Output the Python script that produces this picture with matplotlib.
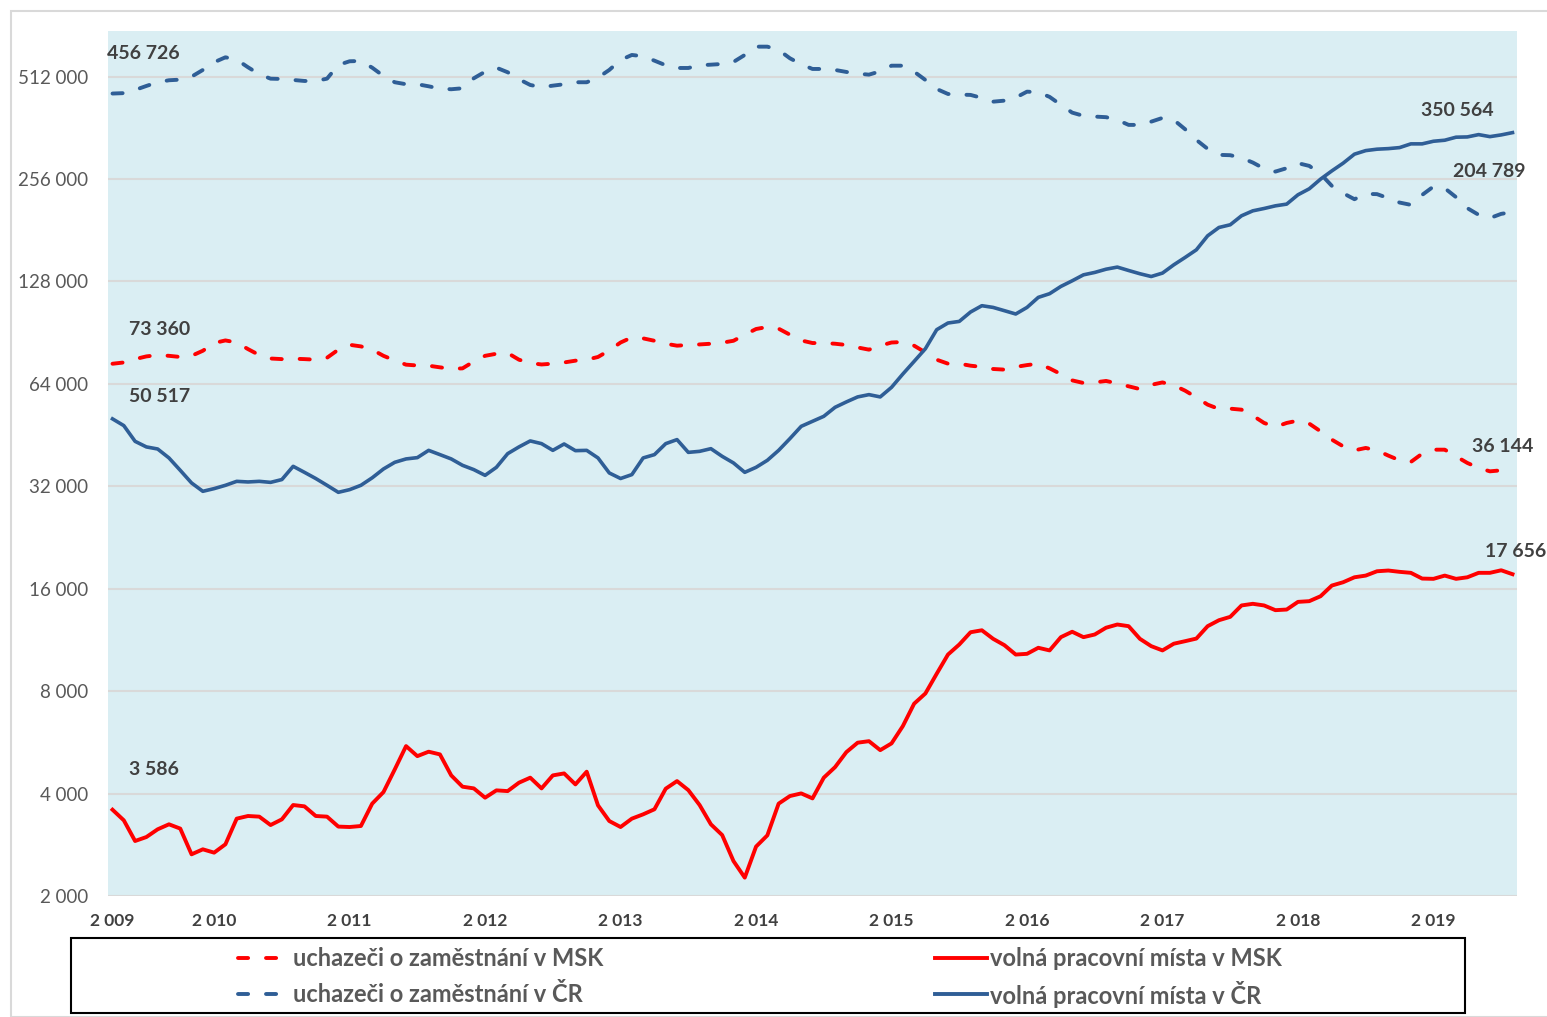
import matplotlib
matplotlib.use("Agg")
import matplotlib.pyplot as plt
from matplotlib.lines import Line2D
from matplotlib.patches import Rectangle

plt.rcParams['font.family'] = ['Lato', 'DejaVu Sans']

# monthly values, Apr 2009 .. Aug 2019
years = ["2 009", "2 010", "2 011", "2 012", "2 013", "2 014",
         "2 015", "2 016", "2 017", "2 018", "2 019"]
year_pos = [0, 9, 21, 33, 45, 57, 69, 81, 93, 105, 117]

cr_unemp = [456726, 458000, 468000, 480800, 493000, 499700, 501800, 512000, 535800, 564400,
            583700, 574400, 545600, 520400, 505100, 504100, 500700, 497300, 497300, 505100,
            554200, 568200, 569400, 544100, 514400, 493000, 486400, 486400, 479700, 472100,
            470200, 473300, 506400, 529600, 544100, 527500, 503100, 484000, 476700, 481800,
            486400, 493000, 493000, 508600, 535800, 573200, 593000, 587800, 570600, 553000,
            543000, 543000, 553000, 555300, 557900, 565600, 593000, 627300, 627300, 613400,
            579800, 556900, 539400, 539400, 535800, 528600, 522500, 519000, 531000, 551500,
            551500, 529600, 500700, 471000, 455400, 453400, 452500, 443300, 432300, 435300,
            444300, 462600, 460700, 446500, 423000, 401400, 392700, 390800, 389200, 382100,
            369400, 369400, 377600, 387300, 382100, 358800, 333700, 314100, 301600, 300900,
            295500, 286300, 274800, 269300, 275600, 285100, 279900, 265200, 244500, 232700,
            223400, 231600, 231200, 225000, 218400, 215000, 230000, 243400, 240700, 226500,
            210300, 201000, 196600, 202300, 204789]

msk_unemp = [73360, 74000, 75700, 77100, 77800, 77400, 76800, 77400, 80100, 84400,
             85900, 84700, 81000, 77800, 76000, 75700, 75900, 75700, 75400, 76400,
             80700, 83400, 82500, 80700, 77400, 75000, 72900, 72500, 72400, 71600,
             70900, 71100, 74500, 77400, 78500, 78900, 75400, 73700, 73000, 73400,
             74000, 74900, 75400, 76800, 80300, 84700, 87700, 87100, 85700, 84000,
             82900, 83300, 83600, 84000, 84600, 85700, 89300, 92800, 94100, 93000,
             89300, 85900, 84400, 84400, 84000, 83300, 81900, 80700, 82900, 84700,
             85000, 82900, 79200, 75400, 73400, 73400, 72400, 71800, 70800, 70500,
             71800, 72700, 73400, 71100, 68400, 65550, 64400, 64650, 65300, 64200,
             62970, 61800, 63600, 64650, 63400, 61150, 58430, 55620, 54020, 54130,
             53760, 51630, 49140, 47830, 49140, 49930, 48910, 46430, 43890, 41950,
             40820, 41490, 40820, 39400, 38160, 37740, 39920, 41010, 41010, 39200,
             37490, 36240, 35420, 35660, 36144]

cr_vac = [50517, 48260, 43390, 41780, 41200, 38780, 35660, 32740, 30940, 31510,
          32220, 33100, 32960, 33100, 32870, 33500, 36640, 35180, 33740, 32220,
          30730, 31290, 32220, 33900, 35990, 37650, 38520, 38860, 40820, 39660,
          38520, 36890, 35830, 34470, 36390, 39920, 41780, 43510, 42720, 40820,
          42620, 40740, 40820, 38780, 35030, 33740, 34640, 38780, 39660, 42720,
          43900, 40270, 40550, 41290, 39200, 37490, 35180, 36390, 38160, 40820,
          44200, 48030, 49690, 51400, 54630, 56660, 58610, 59520, 58610, 62540,
          68430, 74530, 81220, 92370, 96650, 97700, 104120, 108660, 107400, 105050,
          102720, 107400, 114960, 117850, 123800, 128600, 133900, 136100, 139100, 141100,
          137900, 134900, 132400, 135500, 143300, 150600, 158600, 174400, 184500, 187900,
          199700, 206500, 209800, 213600, 216100, 230200, 239700, 255900, 270600, 285100,
          303000, 310400, 313400, 314600, 316800, 324900, 324900, 330700, 333000, 339900,
          340500, 345900, 341200, 345200, 350564]

msk_vac = [3586, 3338, 2902, 2981, 3141, 3249, 3156, 2652, 2743, 2682,
           2838, 3376, 3437, 3422, 3233, 3360, 3702, 3669, 3437, 3422,
           3199, 3190, 3212, 3737, 4041, 4711, 5516, 5154, 5311, 5215,
           4524, 4191, 4143, 3890, 4088, 4068, 4306, 4455, 4143, 4524,
           4585, 4257, 4639, 3694, 3322, 3190, 3376, 3476, 3597, 4135,
           4353, 4095, 3702, 3249, 3021, 2534, 2265, 2794, 3015, 3737,
           3934, 4005, 3872, 4455, 4785, 5296, 5645, 5703, 5367, 5618,
           6314, 7349, 7877, 9000, 10250, 10970, 11920, 12080, 11400, 10920,
           10250, 10300, 10730, 10540, 11530, 11960, 11530, 11740, 12290, 12560,
           12420, 11400, 10850, 10540, 11030, 11220, 11420, 12420, 12930, 13230,
           14290, 14450, 14290, 13840, 13900, 14640, 14710, 15210, 16350, 16720,
           17290, 17490, 18010, 18100, 17940, 17820, 17140, 17110, 17490, 17110,
           17290, 17820, 17820, 18130, 17656]

y_ticks = [2000, 4000, 8000, 16000, 32000, 64000, 128000, 256000, 512000]

labels = ["uchazeči o zaměstnání v MSK", "volná pracovní místa v MSK",
          "uchazeči o zaměstnání v ČR", "volná pracovní místa v ČR"]

RED = "#FF0000"
BLUE = "#2F5E96"
DASH = (2.6, 4.6)


def fmt(v):
    return f"{v:,}".replace(",", " ")


fig = plt.figure(figsize=(15.47, 10.17), dpi=100)
ax = fig.add_axes([108 / 1547, 121 / 1017, 1409 / 1547, 865 / 1017])
ax.set_facecolor("#DAEEF3")

x = list(range(len(cr_unemp)))
ax.plot(x, msk_unemp, color=RED, lw=2.8, dashes=DASH, dash_capstyle="round")
ax.plot(x, msk_vac, color=RED, lw=2.8, solid_joinstyle="round")
ax.plot(x, cr_unemp, color=BLUE, lw=2.8, dashes=DASH, dash_capstyle="round")
ax.plot(x, cr_vac, color=BLUE, lw=2.6, solid_joinstyle="round")

ax.set_yscale("log", base=2)
ax.set_ylim(2000, 697400)
ax.set_xlim(-0.4, 124.4)
ax.set_yticks(y_ticks)
ax.set_yticklabels([fmt(v) for v in y_ticks])
ax.minorticks_off()
ax.set_xticks(year_pos)
ax.set_xticklabels(years, fontweight="bold")
ax.tick_params(axis="y", length=0, pad=14, labelsize=13.5, labelcolor="#595959")
ax.tick_params(axis="x", length=0, pad=12.5, labelsize=12.5, labelcolor="#404040")
ax.grid(axis="y", color="#D9D9D9", lw=1.5)
ax.set_axisbelow(True)
for s in ax.spines.values():
    s.set_visible(False)

# first / last value labels
ann = [
    (0, cr_unemp[0], 22, 29),
    (0, msk_unemp[0], 34, 25),
    (0, cr_vac[0], 34, 16),
    (0, msk_vac[0], 30, 29),
    (124, cr_vac[-1], -40, 16),
    (124, cr_unemp[-1], -17, 29),
    (124, msk_unemp[-1], -7, 16),
    (124, msk_vac[-1], 2, 16),
]
for xi, v, dx, dy in ann:
    ax.annotate(fmt(v), (xi, v), xytext=(dx, dy), textcoords="offset points",
                ha="center", va="center", fontsize=14, fontweight="bold",
                color="#404040", annotation_clip=False)

# chart border and legend box
W, H = 1547, 1017
fig.patches.append(Rectangle((11 / W, 0), 1, (H - 11) / H, transform=fig.transFigure,
                             fill=False, ec="#D9D9D9", lw=1.5))
fig.patches.append(Rectangle((71 / W, 4 / H), 1394 / W, 75 / H, transform=fig.transFigure,
                             fill=False, ec="black", lw=1.5))

entries = [
    (238, 958, RED, True, labels[0]),
    (935, 958, RED, False, labels[1]),
    (238, 994, BLUE, True, labels[2]),
    (935, 994, BLUE, False, labels[3]),
]
for x0, y0, c, dashed, txt in entries:
    yy = (H - y0) / H
    if dashed:
        ln = Line2D([x0 / W, (x0 + 52) / W], [yy, yy], color=c, lw=2.8,
                    dashes=DASH, dash_capstyle="round", transform=fig.transFigure)
    else:
        ln = Line2D([x0 / W, (x0 + 52) / W], [yy, yy], color=c, lw=2.8,
                    transform=fig.transFigure)
    fig.lines.append(ln)
    fig.text((x0 + 55) / W, yy, txt, ha="left", va="center", fontsize=17,
             fontweight="bold", color="#595959")

fig.savefig("out.png", dpi=100)
